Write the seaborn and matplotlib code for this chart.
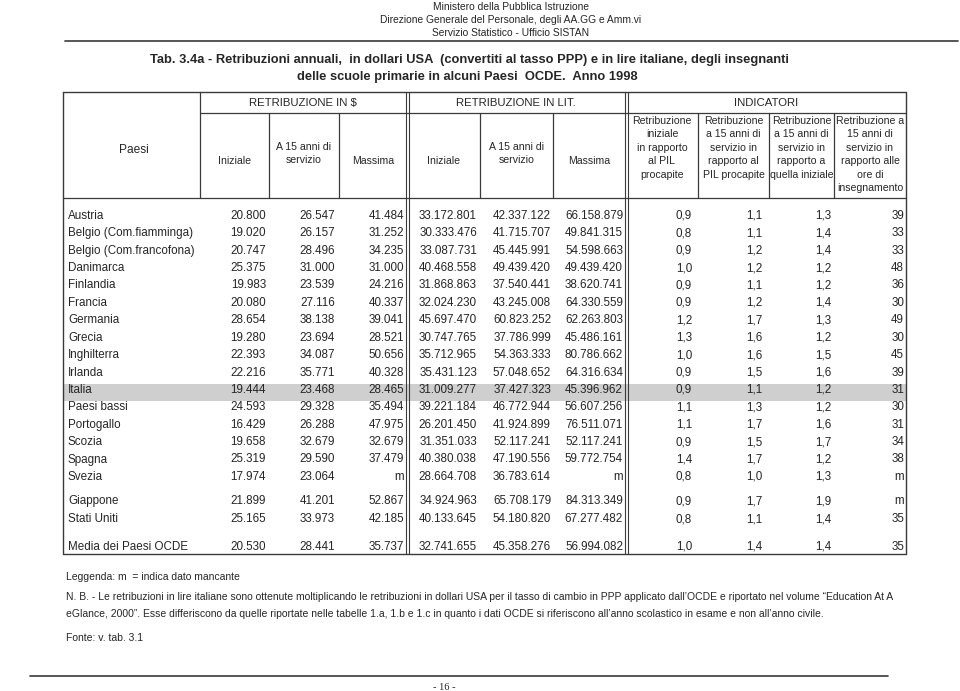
import pandas as pd
import numpy as np
import seaborn as sns
import matplotlib.pyplot as plt

sns.set_theme(style="white")
plt.rcParams['font.family'] = ['Liberation Sans', 'DejaVu Sans']

# dati della tabella
paesi = ["Austria", "Belgio (Com.fiamminga)", "Belgio (Com.francofona)", "Danimarca",
         "Finlandia", "Francia", "Germania", "Grecia", "Inghilterra", "Irlanda", "Italia",
         "Paesi bassi", "Portogallo", "Scozia", "Spagna", "Svezia", "Giappone",
         "Stati Uniti", "Media dei Paesi OCDE"]
usd_iniz = [20800, 19020, 20747, 25375, 19983, 20080, 28654, 19280, 22393, 22216, 19444,
            24593, 16429, 19658, 25319, 17974, 21899, 25165, 20530]
usd_15 = [26547, 26157, 28496, 31000, 23539, 27116, 38138, 23694, 34087, 35771, 23468,
          29328, 26288, 32679, 29590, 23064, 41201, 33973, 28441]
usd_max = [41484, 31252, 34235, 31000, 24216, 40337, 39041, 28521, 50656, 40328, 28465,
           35494, 47975, 32679, 37479, None, 52867, 42185, 35737]
lit_iniz = [33172801, 30333476, 33087731, 40468558, 31868863, 32024230, 45697470, 30747765,
            35712965, 35431123, 31009277, 39221184, 26201450, 31351033, 40380038, 28664708,
            34924963, 40133645, 32741655]
lit_15 = [42337122, 41715707, 45445991, 49439420, 37540441, 43245008, 60823252, 37786999,
          54363333, 57048652, 37427323, 46772944, 41924899, 52117241, 47190556, 36783614,
          65708179, 54180820, 45358276]
lit_max = [66158879, 49841315, 54598663, 49439420, 38620741, 64330559, 62263803, 45486161,
           80786662, 64316634, 45396962, 56607256, 76511071, 52117241, 59772754, None,
           84313349, 67277482, 56994082]
ind_iniz_pil = [0.9, 0.8, 0.9, 1.0, 0.9, 0.9, 1.2, 1.3, 1.0, 0.9, 0.9, 1.1, 1.1, 0.9, 1.4,
                0.8, 0.9, 0.8, 1.0]
ind_15_pil = [1.1, 1.1, 1.2, 1.2, 1.1, 1.2, 1.7, 1.6, 1.6, 1.5, 1.1, 1.3, 1.7, 1.5, 1.7,
              1.0, 1.7, 1.1, 1.4]
ind_15_iniz = [1.3, 1.4, 1.4, 1.2, 1.2, 1.4, 1.3, 1.2, 1.5, 1.6, 1.2, 1.2, 1.6, 1.7, 1.2,
               1.3, 1.9, 1.4, 1.4]
ind_ore = [39, 33, 33, 48, 36, 30, 49, 30, 45, 39, 31, 30, 31, 34, 38, None, None, 35, 35]

df = pd.DataFrame({"Paesi": paesi, "usd_iniz": usd_iniz, "usd_15": usd_15, "usd_max": usd_max,
                   "lit_iniz": lit_iniz, "lit_15": lit_15, "lit_max": lit_max,
                   "i1": ind_iniz_pil, "i2": ind_15_pil, "i3": ind_15_iniz, "i4": ind_ore})


def migliaia(v):
    if v is None or pd.isna(v):
        return "m"
    return f"{int(v):,}".replace(",", ".")


def decimale(v):
    if v is None or pd.isna(v):
        return "m"
    return f"{v:.1f}".replace(".", ",")


fig = plt.figure(figsize=(9.6, 6.91), dpi=100)
ax = fig.add_axes([0, 0, 1, 1])
ax.set_xlim(0, 960)
ax.set_ylim(691, 0)
ax.axis("off")

LC = "#3a3a3a"

# intestazione pagina
hf = 7.4
ax.text(511, 7, "Ministero della Pubblica Istruzione", ha="center", va="center", fontsize=hf)
ax.text(511, 20, "Direzione Generale del Personale, degli AA.GG e Amm.vi", ha="center", va="center", fontsize=hf)
ax.text(511, 33, "Servizio Statistico - Ufficio SISTAN", ha="center", va="center", fontsize=hf)
ax.plot([65, 958], [41, 41], color=LC, lw=1.2)

ax.text(469, 60, "Tab. 3.4a - Retribuzioni annuali,  in dollari USA  (convertiti al tasso PPP) e in lire italiane, degli insegnanti",
        ha="center", va="center", fontsize=9.3, fontweight="bold")
ax.text(467, 77, "delle scuole primarie in alcuni Paesi  OCDE.  Anno 1998",
        ha="center", va="center", fontsize=9.3, fontweight="bold")

# geometria tabella
L, R, T, H1, H2, B = 63, 906, 92, 113, 198, 554
ax.add_patch(plt.Rectangle((L, 384), R - L, 16.5, color="#cfcfcf", lw=0, zorder=0))
ax.plot([L, R, R, L, L], [T, T, B, B, T], color=LC, lw=1.0)
ax.plot([200, R], [H1, H1], color=LC, lw=0.9)
ax.plot([L, R], [H2, H2], color=LC, lw=0.9)
ax.plot([200, 200], [T, H2], color=LC, lw=0.9)
for x in [269, 339, 480, 553, 698, 769, 834]:
    ax.plot([x, x], [H1, H2], color=LC, lw=0.9)
for x in [407, 626]:
    ax.plot([x - 1.5, x - 1.5], [T, B], color=LC, lw=0.8)
    ax.plot([x + 1.5, x + 1.5], [T, B], color=LC, lw=0.8)

hs = 7.6
ax.text(134, 150, "Paesi", ha="center", va="center", fontsize=8.6)
ax.text(303, 102.5, "RETRIBUZIONE IN $", ha="center", va="center", fontsize=8.2)
ax.text(516, 102.5, "RETRIBUZIONE IN LIT.", ha="center", va="center", fontsize=8.2)
ax.text(766, 102.5, "INDICATORI", ha="center", va="center", fontsize=8.2)
for x0, x1 in [(200, 269), (407, 480)]:
    ax.text((x0 + x1) / 2, 161, "Iniziale", ha="center", va="center", fontsize=hs)
for x0, x1 in [(269, 339), (480, 553)]:
    ax.text((x0 + x1) / 2, 147, "A 15 anni di", ha="center", va="center", fontsize=hs)
    ax.text((x0 + x1) / 2, 160, "servizio", ha="center", va="center", fontsize=hs)
for x0, x1 in [(339, 407), (553, 626)]:
    ax.text((x0 + x1) / 2, 161, "Massima", ha="center", va="center", fontsize=hs)

indicatori = [["Retribuzione", "iniziale", "in rapporto", "al PIL", "procapite"],
              ["Retribuzione", "a 15 anni di", "servizio in", "rapporto al", "PIL procapite"],
              ["Retribuzione", "a 15 anni di", "servizio in", "rapporto a", "quella iniziale"],
              ["Retribuzione a", "15 anni di", "servizio in", "rapporto alle", "ore di", "insegnamento"]]
for (x0, x1), righe in zip([(626, 698), (698, 769), (769, 834), (834, 906)], indicatori):
    for k, riga in enumerate(righe):
        ax.text((x0 + x1) / 2, 121 + 13.4 * k, riga, ha="center", va="center", fontsize=hs)

# righe dati
slot = list(range(16)) + [16.4, 17.43, 19.0]
ds = 8.4
for i, row in df.iterrows():
    y = 214.7 + 17.4 * slot[i] + 4.2
    kw = dict(va="baseline", fontsize=ds)
    ax.text(68, y, row["Paesi"], ha="left", **kw)
    ax.text(266, y, migliaia(row["usd_iniz"]), ha="right", **kw)
    ax.text(335, y, migliaia(row["usd_15"]), ha="right", **kw)
    ax.text(404, y, migliaia(row["usd_max"]), ha="right", **kw)
    ax.text(477, y, migliaia(row["lit_iniz"]), ha="right", **kw)
    ax.text(551, y, migliaia(row["lit_15"]), ha="right", **kw)
    ax.text(623, y, migliaia(row["lit_max"]), ha="right", **kw)
    ax.text(684, y, decimale(row["i1"]), ha="center", **kw)
    ax.text(754, y, decimale(row["i2"]), ha="center", **kw)
    ax.text(823, y, decimale(row["i3"]), ha="center", **kw)
    ax.text(904, y, migliaia(row["i4"]), ha="right", **kw)

# note
nf = 7.5
leg = ax.text(66, 577, "Leggenda: m  = indica dato mancante", ha="left", va="center", fontsize=nf)
leg.set_clip_path(plt.Rectangle((0, 0), 960, 580.5, transform=ax.transData))
ax.text(66, 597, "N. B. - Le retribuzioni in lire italiane sono ottenute moltiplicando le retribuzioni in dollari USA per il tasso di cambio in PPP applicato dall\u2019OCDE e riportato nel volume \u201cEducation At A",
        ha="left", va="center", fontsize=nf)
ax.text(66, 614, "eGlance, 2000\u201d. Esse differiscono da quelle riportate nelle tabelle 1.a, 1.b e 1.c in quanto i dati OCDE si riferiscono all\u2019anno scolastico in esame e non all\u2019anno civile.",
        ha="left", va="center", fontsize=nf)
ax.text(66, 638, "Fonte: v. tab. 3.1", ha="left", va="center", fontsize=nf)
ax.plot([30, 888], [676, 676], color=LC, lw=1.2)
ax.text(444, 687, "- 16 -", ha="center", va="center", fontsize=7.5, family=["Liberation Serif", "DejaVu Serif"])

fig.savefig("out.png", dpi=100)
